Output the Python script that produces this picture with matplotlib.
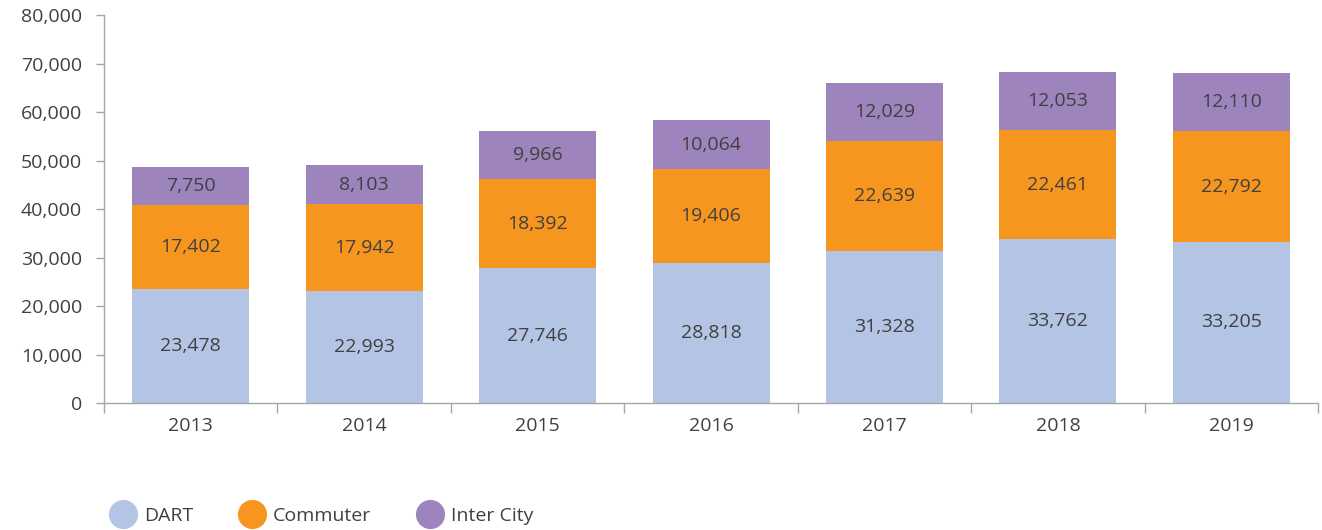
import numpy as np
import matplotlib.pyplot as plt
from matplotlib.lines import Line2D
from matplotlib.ticker import FuncFormatter

plt.rcParams['font.family'] = ['Open Sans', 'DejaVu Sans']

years = ['2013', '2014', '2015', '2016', '2017', '2018', '2019']
dart = [23478, 22993, 27746, 28818, 31328, 33762, 33205]
commuter = [17402, 17942, 18392, 19406, 22639, 22461, 22792]
intercity = [7750, 8103, 9966, 10064, 12029, 12053, 12110]

names = ['DART', 'Commuter', 'Inter City']
colors = ['#b3c4e4', '#f7961f', '#9e84bd']
text_col = '#404040'
axis_col = '#a6a6a6'

fig = plt.figure(figsize=(13.22, 5.3), dpi=100)
ax = fig.add_axes([0.0787, 0.2396, 0.9183, 0.7321])

x = np.arange(len(years))
bottom = np.zeros(len(years))
for vals, col in zip([dart, commuter, intercity], colors):
    vals = np.array(vals)
    ax.bar(x, vals, width=0.675, bottom=bottom, color=col, edgecolor='none')
    for xi, b, v in zip(x, bottom, vals):
        ax.text(xi, b + v / 2, f'{v:,}', ha='center', va='center',
                fontsize=14, color=text_col)
    bottom = bottom + vals

ax.set_xlim(-0.5, len(years) - 0.5)
ax.set_ylim(0, 80000)
ax.set_yticks(np.arange(0, 80001, 10000))
ax.yaxis.set_major_formatter(FuncFormatter(lambda v, p: f'{int(v):,}'))

ax.set_xticks(x)
ax.set_xticklabels(years)
ax.set_xticks(np.arange(-0.5, len(years)), minor=True)
ax.tick_params(axis='x', which='major', length=0, pad=10, labelsize=14, labelcolor=text_col)
ax.tick_params(axis='x', which='minor', length=7, color=axis_col, width=1)
ax.tick_params(axis='y', length=6, color=axis_col, width=1, pad=10,
               labelsize=14, labelcolor=text_col)

for s in ['top', 'right']:
    ax.spines[s].set_visible(False)
for s in ['left', 'bottom']:
    ax.spines[s].set_color(axis_col)
    ax.spines[s].set_linewidth(1)

handles = [Line2D([], [], marker='o', linestyle='none', markersize=21,
                  markerfacecolor=c, markeredgecolor='none') for c in colors]
fig.legend(handles, names, loc='center left', bbox_to_anchor=(0.069, 0.026),
           ncol=3, frameon=False, fontsize=14, labelcolor=text_col,
           handletextpad=0.3, columnspacing=2.3, handlelength=1.5)

fig.savefig('out.png', dpi=100)
